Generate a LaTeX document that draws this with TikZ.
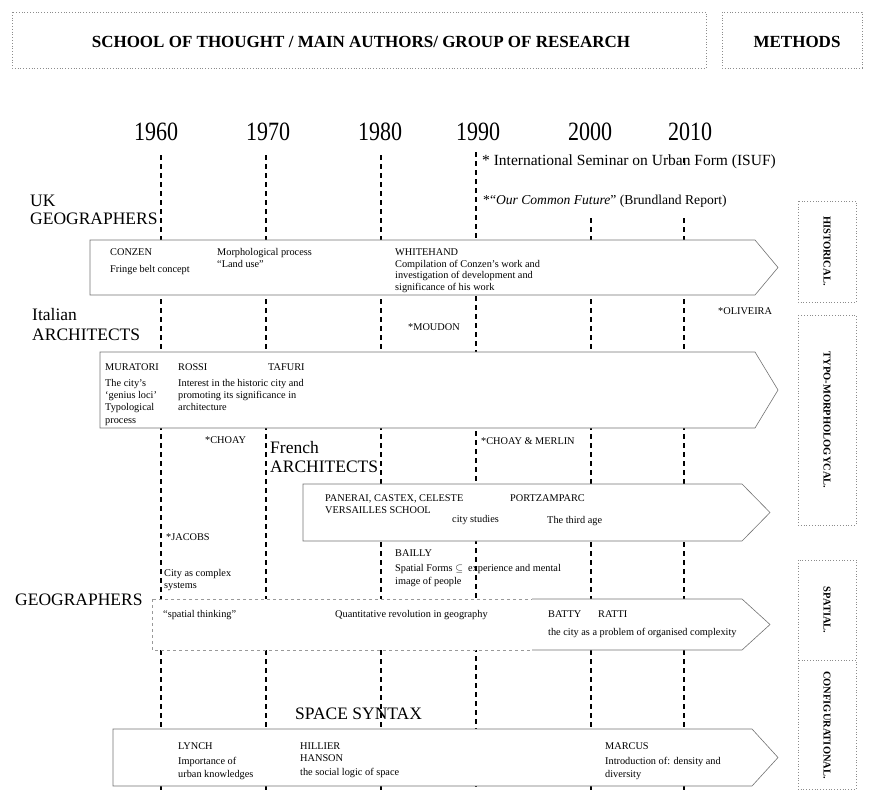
\documentclass[tikz,border=0pt]{standalone}
\usepackage{fontspec}
\setmainfont{Liberation Serif}
\begin{document}
\begin{tikzpicture}[x=1pt,y=-1pt,
  yearline/.style={line width=1.1pt, dash pattern=on 5pt off 4pt},
  band/.style={draw=black!55, line width=0.6pt, fill=white},
  small/.style={font=\fontsize{10.3}{12}\selectfont, anchor=base west, inner sep=0pt},
  grp/.style={font=\fontsize{17.5}{19}\selectfont, anchor=base west, inner sep=0pt},
  mid/.style={font=\fontsize{15.5}{17}\selectfont, anchor=base west, inner sep=1pt, fill=white},
  year/.style={font=\fontsize{22}{24}\selectfont, anchor=base, inner sep=0pt},
  methbox/.style={draw=black!45, dotted, line width=0.8pt},
  methtxt/.style={font=\bfseries\fontsize{10.5}{12}\selectfont, rotate=-90, inner sep=0pt},
  head/.style={font=\bfseries\fontsize{17}{19}\selectfont}
]
\useasboundingbox (0,0) rectangle (874,790);
% header
\draw[methbox] (12,12) rectangle (706,68);
\node[head] (hdr) at (361,42) {SCHOOL OF THOUGHT / MAIN AUTHORS/ GROUP OF RESEARCH};
\draw[methbox] (722,12) rectangle (862,68);
\node[head] (meth) at (797,42) {METHODS};
% years
\node[year] (y60) at (156,140) {\scalebox{1}[1.2]{1960}};
\node[year] (y70) at (268,140) {\scalebox{1}[1.2]{1970}};
\node[year] (y80) at (380,140) {\scalebox{1}[1.2]{1980}};
\node[year] (y90) at (478,140) {\scalebox{1}[1.2]{1990}};
\node[year] (y00) at (590,140) {\scalebox{1}[1.2]{2000}};
\node[year] (y10) at (690,140) {\scalebox{1}[1.2]{2010}};
% year lines
\draw[yearline] (161,155) -- (161,790);
\draw[yearline] (266,155) -- (266,790);
\draw[yearline] (381,155) -- (381,790);
\draw[yearline] (476,152) -- (476,790);
\draw[yearline] (591,218) -- (591,790);
\draw[yearline] (684,218) -- (684,790);
% events
\node[mid] (isuf) at (481,165) {* International Seminar on Urban Form (ISUF)};
\draw[yearline] (684,158) -- (684,166);
\node[mid, font=\fontsize{13.6}{15}\selectfont] (ocf) at (482,204) {*“\textit{Our Common Future}” (Brundland Report)};
% group labels
\node[grp] (uk1) at (30,206) {UK};
\node[grp] (uk2) at (30,224) {GEOGRAPHERS};
\node[grp] (it1) at (32,320) {Italian};
\node[grp] (it2) at (32,340) {ARCHITECTS};
\node[grp] (fr1) at (270,453) {French};
\node[grp] (fr2) at (270,472) {ARCHITECTS};
\node[grp] (geo) at (15,605) {GEOGRAPHERS};
\node[grp] (ss) at (295,719) {SPACE SYNTAX};
% bands
\draw[band] (90,240) -- (755,240) -- (778,267.5) -- (755,295) -- (90,295) -- cycle;
\draw[band] (100,352) -- (755,352) -- (778,390) -- (755,428) -- (100,428) -- cycle;
\draw[band] (303,484) -- (742,484) -- (770,512.5) -- (742,541) -- (303,541) -- cycle;
\draw[draw=black!40, dashed, line width=0.6pt, fill=white] (152,599) rectangle (532,650);
\fill[white] (532,599) -- (742,599) -- (770,624.5) -- (742,650) -- (532,650) -- cycle;
\draw[draw=black!55, line width=0.6pt] (532,599) -- (742,599) -- (770,624.5) -- (742,650) -- (532,650);
\draw[band] (113,729) -- (752,729) -- (778,757.5) -- (752,786) -- (113,786) -- cycle;
% UK texts
\node[small] (conzen) at (110,255) {CONZEN};
\node[small] (fringe) at (110,272) {Fringe belt concept};
\node[small] (morph) at (217,255) {Morphological process};
\node[small] (land) at (217,267) {“Land use”};
\node[small] (white) at (395,255) {WHITEHAND};
\node[small] (wh1) at (395,267) {Compilation of Conzen’s work and};
\node[small] (wh2) at (395,278.5) {investigation of development and};
\node[small] (wh3) at (395,290) {significance of his work};
% Italian
\node[small] (moudon) at (408,330) {*MOUDON};
\node[small] (oliv) at (718,314) {*OLIVEIRA};
\node[small] (mur) at (105,370) {MURATORI};
\node[small] (rossi) at (178,370) {ROSSI};
\node[small] (taf) at (268,370) {TAFURI};
\node[small] (m1) at (105,386) {The city’s};
\node[small] (m2) at (105,398) {‘genius loci’};
\node[small] (m3) at (105,410) {Typological};
\node[small] (m4) at (105,423) {process};
\node[small] (r1) at (178,386) {Interest in the historic city and};
\node[small] (r2) at (178,398) {promoting its significance in};
\node[small] (r3) at (178,410) {architecture};
% French
\node[small] (choay) at (205,443) {*CHOAY};
\node[small] (choaym) at (481,444) {*CHOAY \& MERLIN};
\node[small] (pan) at (325,501) {PANERAI, CASTEX, CELESTE};
\node[small] (vers) at (325,513) {VERSAILLES SCHOOL};
\node[small] (cits) at (452,522) {city studies};
\node[small] (portz) at (510,501) {PORTZAMPARC};
\node[small] (third) at (547,523) {The third age};
% Geographers
\node[small] (jac) at (166,540) {*JACOBS};
\node[small] (cc1) at (164,576) {City as complex};
\node[small] (cc2) at (164,588) {systems};
\node[small] (bai) at (395,556) {BAILLY};
\node[small] (bai1) at (395,571) {Spatial Forms $\subseteq$\ \ experience and mental};
\node[small] (bai2) at (395,584) {image of people};
\node[small] (spth) at (163,617) {“spatial thinking”};
\node[small] (quant) at (335,617) {Quantitative revolution in geography};
\node[small] (batty) at (548,617) {BATTY};
\node[small] (ratti) at (598,617) {RATTI};
\node[small] (orgc) at (548,635) {the city as a problem of organised complexity};
% Space syntax
\node[small] (lynch) at (178,749) {LYNCH};
\node[small] (l1) at (178,764) {Importance of};
\node[small] (l2) at (178,777) {urban knowledges};
\node[small] (hil) at (300,749) {HILLIER};
\node[small] (han) at (300,761) {HANSON};
\node[small] (h1) at (300,775) {the social logic of space};
\node[small] (mar) at (605,749) {MARCUS};
\node[small] (ma1) at (605,764) {Introduction of: density and};
\node[small] (ma2) at (605,777) {diversity};
% methods column
\draw[methbox] (798,201) rectangle (856,302);
\draw[methbox] (798,315) rectangle (856,525);
\draw[methbox] (798,560) rectangle (856,660);
\draw[methbox] (798,660) rectangle (856,789);
\node[methtxt] (mh) at (827,251) {HISTORICAL.};
\node[methtxt] (mt) at (827,420) {TYPO-MORPHOLOGYCAL.};
\node[methtxt] (ms) at (827,610) {SPATIAL.};
\node[methtxt] (mc) at (827,725) {CONFIGURATIONAL.};
\end{tikzpicture}
\end{document}
